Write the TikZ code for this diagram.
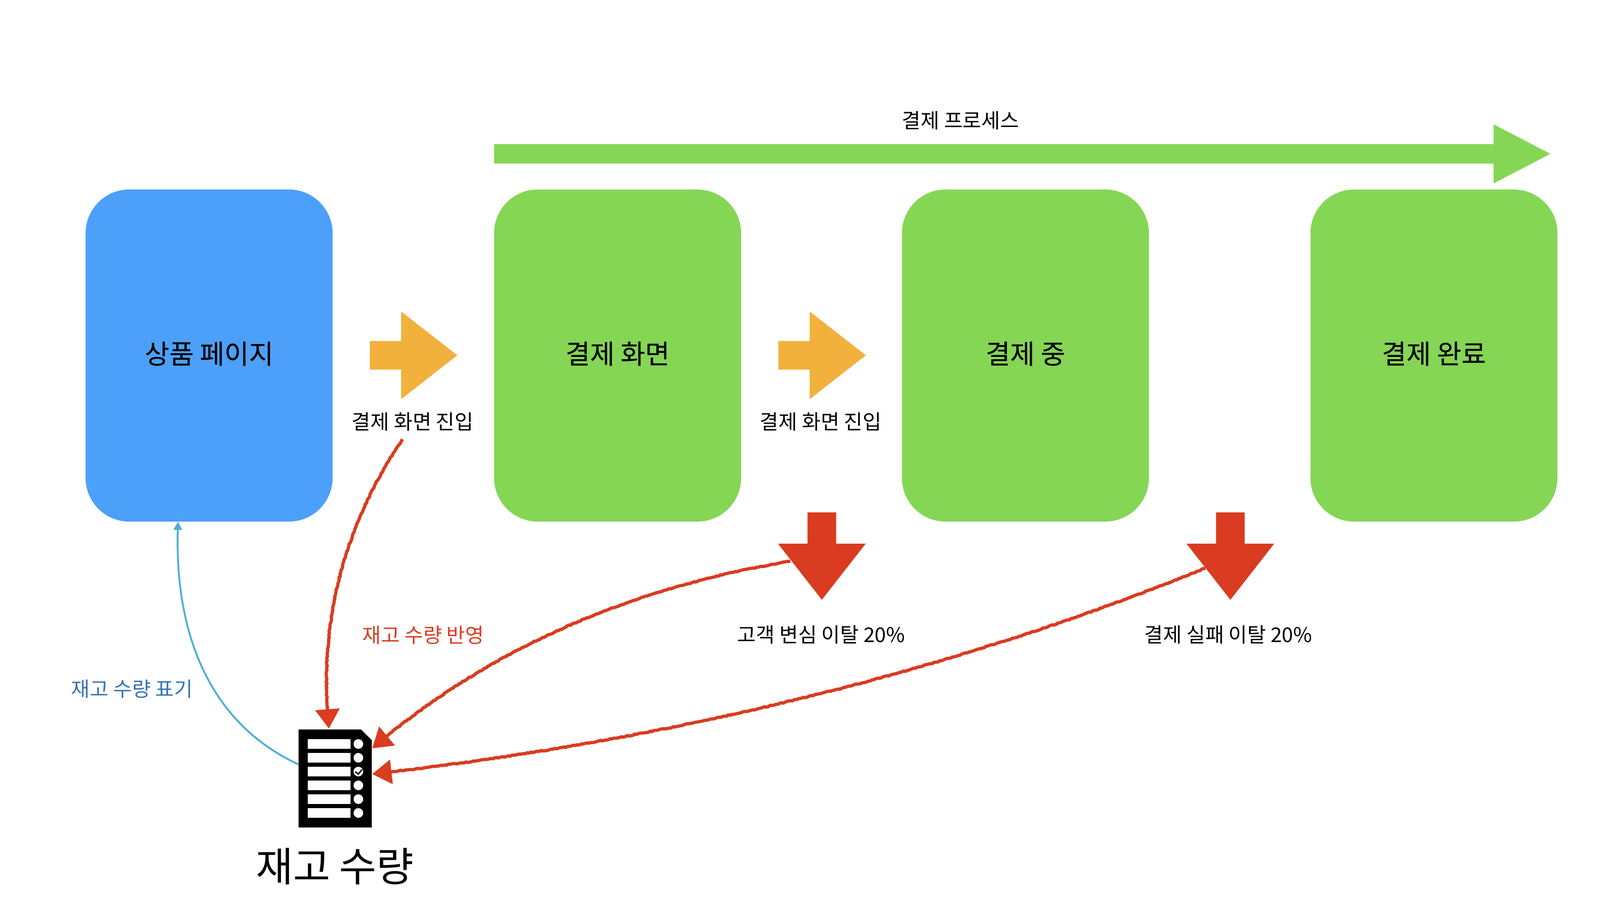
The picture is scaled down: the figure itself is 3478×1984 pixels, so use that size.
\documentclass[tikz,border=0pt]{standalone}
\usepackage{xcolor}
\usepackage{fontspec}
\setmainfont{Noto Sans CJK KR}
\newfontfamily\stagefont[FakeBold=0.25]{Noto Sans CJK KR}
\usetikzlibrary{shapes.arrows,arrows.meta,decorations.pathmorphing}
\definecolor{paygreen}{HTML}{85D655}
\definecolor{pageblue}{HTML}{4CA0F9}
\definecolor{flowamber}{HTML}{F2B13C}
\definecolor{lossred}{HTML}{D93C20}
\definecolor{linkblue}{HTML}{4FAFD6}
\definecolor{textblue}{HTML}{3574B5}

\begin{document}
\begin{tikzpicture}[x=0.1mm, y=-0.1mm,
    stagebox/.style={rectangle, rounded corners=9.5mm, minimum width=53.7mm, minimum height=72.2mm, inner sep=0, text height=4.8mm, text depth=1.26mm, font=\stagefont\fontsize{16.5}{20}\selectfont},
    paybox/.style={stagebox, fill=paygreen},
    pagebox/.style={stagebox, fill=pageblue},
    blockarrow/.style={single arrow, anchor=tip, outer sep=0, inner sep=3.05mm, minimum width=18.9mm, minimum height=19mm, single arrow tip angle=76, single arrow head extend=6.4mm},
    caption/.style={font=\fontsize{12.6}{15}\selectfont, inner sep=0},
    rough/.style={draw=lossred, line width=0.7mm, decorate, decoration={random steps, segment length=1.2pt, amplitude=0.3pt, post length=14pt, pre length=1pt}, -{Triangle[length=4.2mm, width=5.2mm]}}
]
    \useasboundingbox (0,0) rectangle (3478,1984);

    \node[pagebox] (page) at (454.5,773) {상품 페이지};
    \node[paybox] (checkout) at (1342.5,773) {결제 화면};
    \node[paybox] (paying) at (2229,773) {결제 중};
    \node[paybox] (done) at (3117,773) {결제 완료};

    % process bar
    \node[blockarrow, fill=paygreen, inner sep=2.05mm, minimum width=12.7mm, minimum height=229.6mm, single arrow tip angle=55, single arrow head extend=4.3mm] (process) at (3370,334.5) {};
    \node[caption] (processlbl) at (2088,262) {결제 프로세스};

    \node[blockarrow, fill=flowamber] (enter1) at (994,772.5) {};
    \node[blockarrow, fill=flowamber] (enter2) at (1882,772.5) {};
    \node[caption] (enter1lbl) at (897,917) {결제 화면 진입};
    \node[caption] (enter2lbl) at (1784,917) {결제 화면 진입};

    \node[blockarrow, fill=lossred, shape border rotate=270] (drop1) at (1786.5,1304) {};
    \node[blockarrow, fill=lossred, shape border rotate=270] (drop2) at (2674.5,1304) {};
    \node[caption] (drop1lbl) at (1785,1380) {고객 변심 이탈 20\%};
    \node[caption] (drop2lbl) at (2670,1380) {결제 실패 이탈 20\%};

    \node[caption, text=lossred] (reflectlbl) at (920,1381) {재고 수량 반영};
    \node[caption, text=textblue] (showlbl) at (287,1498) {재고 수량 표기};

    % stock sheet
    \node[inner sep=0, minimum width=15.9mm, minimum height=21.3mm] (stock) at (728.5,1692.5) {};
    \fill[black] (649,1586) -- (785,1586) -- (808,1609) -- (808,1799) -- (649,1799) -- cycle;
    \foreach \row in {0,...,5} {
        \fill[white] (669,1607+30*\row) rectangle (762,1628+30*\row);
        \fill[white] (779,1617.5+30*\row) circle (1.05mm);
    }
    \draw[black, line width=0.3mm] (772,1678) -- (779,1683) -- (787,1673);
    \node[inner sep=0, font=\fontsize{25}{30}\selectfont] (stocklbl) at (728,1884) {재고 수량};

    \coordinate (enterfoot) at (875,955);
    \coordinate (drop1side) at (1718,1220);
    \coordinate (drop2side) at (2620,1235);
    \coordinate (stocktop) at (715,1584);
    \coordinate (stockcorner) at (809,1627);
    \coordinate (stockside) at (809,1683);
    \coordinate (stockleft) at (649,1662);
    \coordinate (pagefoot) at (387,1134);

    \draw[linkblue, line width=0.4mm, -{Triangle[length=1.8mm, width=1.8mm]}] (stockleft) .. controls (450,1570) and (380,1370) .. (pagefoot);
    \draw[rough] (enterfoot) .. controls (746,1145) and (692,1355) .. (stocktop);
    \draw[rough] (drop1side) .. controls (1359,1280) and (1056,1416) .. (stockcorner);
    \draw[rough] (drop2side) .. controls (2073,1458) and (1470,1608) .. (stockside);
\end{tikzpicture}
\end{document}
